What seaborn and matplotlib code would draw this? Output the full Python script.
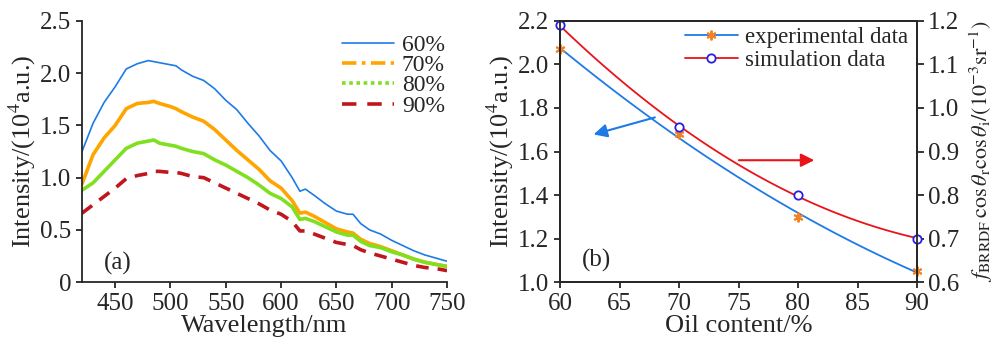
import numpy as np
import pandas as pd
import seaborn as sns
import matplotlib.pyplot as plt
from matplotlib.lines import Line2D
from matplotlib.ticker import FuncFormatter

# ---- data: (a) emission spectra ----
wl = [420, 430, 440, 450, 460, 470, 480, 485, 490, 500, 505, 510, 520, 530, 540,
      550, 560, 570, 580, 590, 600, 610, 617, 622, 630, 640, 650, 660, 665, 672,
      680, 690, 700, 710, 720, 730, 740, 750]
i60 = [1.25, 1.52, 1.72, 1.87, 2.04, 2.09, 2.12, 2.11, 2.10, 2.08, 2.07, 2.03, 1.97,
       1.93, 1.85, 1.74, 1.65, 1.52, 1.40, 1.26, 1.16, 1.00, 0.87, 0.89, 0.83, 0.75,
       0.68, 0.65, 0.65, 0.56, 0.50, 0.46, 0.40, 0.35, 0.30, 0.26, 0.23, 0.20]
i70 = [0.94, 1.22, 1.38, 1.50, 1.66, 1.71, 1.72, 1.73, 1.71, 1.68, 1.66, 1.63, 1.58,
       1.54, 1.46, 1.36, 1.26, 1.17, 1.08, 0.97, 0.90, 0.78, 0.66, 0.67, 0.63, 0.57,
       0.51, 0.48, 0.47, 0.41, 0.37, 0.34, 0.30, 0.26, 0.22, 0.19, 0.17, 0.15]
i80 = [0.88, 0.95, 1.06, 1.17, 1.28, 1.33, 1.35, 1.36, 1.33, 1.31, 1.30, 1.28, 1.25,
       1.23, 1.17, 1.12, 1.06, 1.00, 0.93, 0.85, 0.80, 0.72, 0.60, 0.61, 0.58, 0.53,
       0.48, 0.45, 0.45, 0.39, 0.35, 0.33, 0.29, 0.26, 0.22, 0.19, 0.17, 0.15]
i90 = [0.66, 0.74, 0.82, 0.90, 0.99, 1.02, 1.04, 1.06, 1.06, 1.05, 1.05, 1.04, 1.01,
       1.00, 0.95, 0.90, 0.85, 0.80, 0.75, 0.69, 0.65, 0.58, 0.49, 0.49, 0.46, 0.42,
       0.38, 0.36, 0.35, 0.31, 0.28, 0.25, 0.22, 0.19, 0.16, 0.14, 0.13, 0.11]
series_labels = ["60%", "70%", "80%", "90%"]

# ---- data: (b) oil content ----
oil = [60, 70, 80, 90]
exp_data = [2.07, 1.68, 1.30, 1.05]
sim_data = [1.19, 0.956, 0.80, 0.70]

sns.set_style("ticks")
plt.rcParams['font.family'] = ['Liberation Serif', 'DejaVu Serif']
plt.rcParams['mathtext.fontset'] = 'stix'
plt.rcParams['axes.linewidth'] = 1.3
plt.rcParams['xtick.major.width'] = 1.3
plt.rcParams['ytick.major.width'] = 1.3

fig = plt.figure(figsize=(10, 3.54), dpi=100)
ax1 = fig.add_axes([0.082, 0.203, 0.365, 0.738])
ax2 = fig.add_axes([0.560, 0.203, 0.357, 0.738])

# ---------------- (a) ----------------
colors_a = ["#1e7be6", "#ffa500", "#80e020", "#c0161e"]
widths_a = [1.2, 2.6, 2.6, 2.6]
styles_a = ["-", "-", "-", (0, (3.5, 2.5))]
leg_styles = ["-", (0, (4, 1.5, 1, 1.5)), (0, (1, 1)), (0, (4, 3))]
spectra = pd.DataFrame({"wl": wl, "60%": i60, "70%": i70, "80%": i80, "90%": i90})
handles = []
for lab, c, w, s, ls in zip(series_labels, colors_a, widths_a, styles_a, leg_styles):
    sns.lineplot(data=spectra, x="wl", y=lab, ax=ax1, color=c, lw=w, linestyle=s)
    handles.append(Line2D([], [], color=c, lw=w, linestyle=ls))
ax1.legend(handles, series_labels, loc="upper right", frameon=False, fontsize=17,
           handlelength=2.2, handletextpad=0.35, labelspacing=-0.05,
           borderaxespad=0.0, bbox_to_anchor=(1.02, 0.985))
ax1.set_xlim(420, 750)
ax1.set_ylim(0, 2.5)
ax1.set_xticks([450, 500, 550, 600, 650, 700, 750])
ax1.set_yticks([0, 0.5, 1.0, 1.5, 2.0, 2.5])
ax1.yaxis.set_major_formatter(FuncFormatter(lambda v, p: "0" if v == 0 else "%.1f" % v))
ax1.tick_params(labelsize=18, direction="out", length=4)
ax1.set_xlabel("Wavelength/nm", fontsize=19, labelpad=0)
ax1.set_ylabel(r"Intensity/(10$^4$a.u.)", fontsize=19, labelpad=2)
ax1.text(452, 0.18, "(a)", fontsize=18, ha="center", va="center")
sns.despine(ax=ax1)

# ---------------- (b) ----------------
ax3 = ax2.twinx()
sns.regplot(x=oil, y=exp_data, order=2, ci=None, scatter=False, ax=ax2,
            line_kws=dict(color="#1e7be6", lw=1.3))
sns.regplot(x=oil, y=sim_data, order=2, ci=None, scatter=False, ax=ax3,
            line_kws=dict(color="#e8141a", lw=1.3))
ax2.plot(oil, exp_data, ls="none", marker=(6, 2, 0), ms=7, mec="#f58220",
         mew=1.4, clip_on=False)
ax3.plot(oil, sim_data, ls="none", marker="o", ms=6, mfc="white", mec="#2a1fe0",
         mew=1.3, clip_on=False)

ax2.set_xlim(60, 90)
ax2.set_ylim(1.0, 2.2)
ax3.set_ylim(0.6, 1.2)
ax2.set_xticks([60, 65, 70, 75, 80, 85, 90])
ax2.set_yticks([1.0, 1.2, 1.4, 1.6, 1.8, 2.0, 2.2])
ax3.set_yticks([0.6, 0.7, 0.8, 0.9, 1.0, 1.1, 1.2])
ax2.yaxis.set_major_formatter(FuncFormatter(lambda v, p: "%.1f" % v))
ax3.yaxis.set_major_formatter(FuncFormatter(lambda v, p: "%.1f" % v))
ax2.tick_params(labelsize=18, direction="out", length=4)
ax3.tick_params(labelsize=18, direction="out", length=5, pad=3)
ax2.set_xlabel("Oil content/%", fontsize=19, labelpad=0)
ax2.set_ylabel(r"Intensity/(10$^4$a.u.)", fontsize=19, labelpad=2)
ax3.set_ylabel(r"$f_{\rm BRRDF}\,\cos\theta_{\rm r}\cos\theta_{\rm i}/(10^{-3}{\rm sr}^{-1})$",
               fontsize=16, labelpad=6)
ax2.text(63.1, 1.10, "(b)", fontsize=18, ha="center", va="center")

ax2.annotate("", xy=(62.6, 1.675), xytext=(68.2, 1.76),
             arrowprops=dict(arrowstyle="-|>", color="#1e7be6", lw=1.5, mutation_scale=20))
ax3.annotate("", xy=(81.6, 0.88), xytext=(74.8, 0.88),
             arrowprops=dict(arrowstyle="-|>", color="#e8141a", lw=1.5, mutation_scale=20))

h_exp = Line2D([], [], color="#1e7be6", lw=1.3, marker=(6, 2, 0), ms=7,
               mec="#f58220", mew=1.4)
h_sim = Line2D([], [], color="#e8141a", lw=1.3, marker="o", ms=6, mfc="white",
               mec="#2a1fe0", mew=1.3)
ax2.legend([h_exp, h_sim], ["experimental data", "simulation data"], loc="upper right",
           frameon=False, fontsize=16.5, handlelength=2.3, labelspacing=0.05,
           borderaxespad=0.0, handletextpad=0.3, bbox_to_anchor=(1.0, 1.01))

fig.savefig("out.png", dpi=100)
